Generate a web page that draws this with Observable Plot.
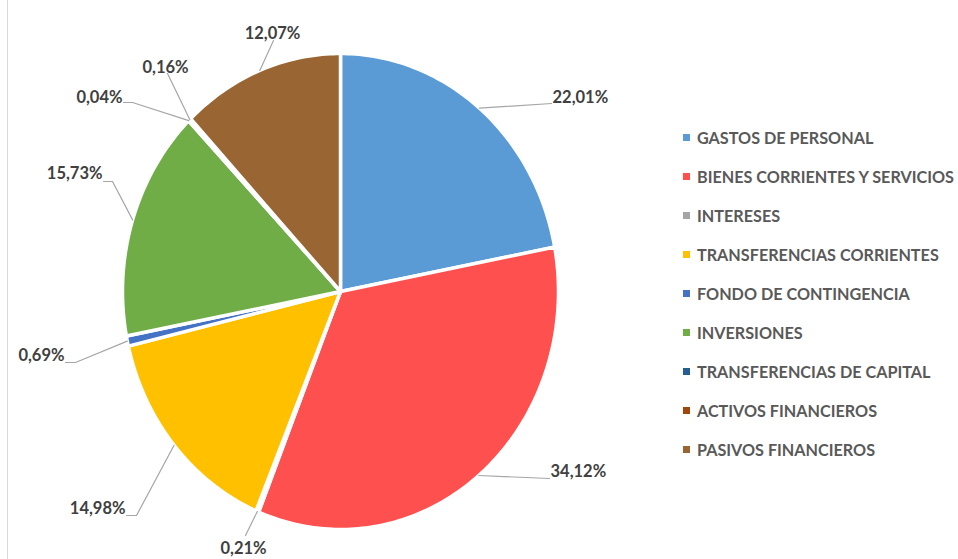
<!DOCTYPE html>
<html>
<head>
<meta charset="utf-8">
<script src="https://cdn.jsdelivr.net/npm/d3@7"></script>
<script src="https://cdn.jsdelivr.net/npm/@observablehq/plot@0.6"></script>
<style>
  html, body { margin: 0; padding: 0; background: #fff; }
  #wrap { position: relative; width: 958px; height: 559px; overflow: hidden; }
  #frame { position: absolute; left: 7px; top: 0; width: 1px; height: 559px; background: #d9d9d9; }
  #legend { position: absolute; left: 683px; top: 0; font-family: Lato, "Open Sans", sans-serif; font-weight: 700; font-size: 16.2px; color: #595959; }
  #legend .row { position: absolute; left: 0; white-space: nowrap; display: flex; align-items: center; height: 20px; }
  #legend .sw { width: 7px; height: 7px; margin-right: 7px; }
</style>
</head>
<body>
<div id="wrap"><div id="frame"></div><div id="chart"></div><div id="legend"></div></div>
<script>
// ---- data ----
const categories = [
  "GASTOS DE PERSONAL",
  "BIENES CORRIENTES Y SERVICIOS",
  "INTERESES",
  "TRANSFERENCIAS CORRIENTES",
  "FONDO DE CONTINGENCIA",
  "INVERSIONES",
  "TRANSFERENCIAS DE CAPITAL",
  "ACTIVOS FINANCIEROS",
  "PASIVOS FINANCIEROS"
];
const shares = [22.01, 34.12, 0.21, 14.98, 0.69, 15.73, 0.04, 0.16, 12.07];
const labelTexts = ["22,01%", "34,12%", "0,21%", "14,98%", "0,69%", "15,73%", "0,04%", "0,16%", "12,07%"];
const colors = ["#5b9bd5", "#ff5050", "#a5a5a5", "#ffc000", "#4472c4", "#70ad47", "#255e91", "#9e480e", "#996633"];

// ---- layout (pixels) ----
const W = 958, H = 559;
const CX = 340, CY = 291, RX = 218, RY = 238;
// leader-line bend/end points and text placement for each label
const labelLayout = [
  {pts: [[551, 103]], tx: 552, ty: 97, anchor: "start"},
  {pts: [[549, 478]], tx: 550, ty: 471, anchor: "start"},
  {pts: [[245, 535]], tx: 243, ty: 548, anchor: "middle"},
  {pts: [[136, 515], [126, 515]], tx: 125, ty: 508, anchor: "end"},
  {pts: [[75, 362], [65, 362]], tx: 64, ty: 355, anchor: "end"},
  {pts: [[112, 181], [103, 181]], tx: 102, ty: 173, anchor: "end"},
  {pts: [[132, 102], [123, 102]], tx: 122, ty: 97, anchor: "end"},
  {pts: [[167, 73]], tx: 165, ty: 67, anchor: "middle"},
  {pts: [[273, 40]], tx: 272, ty: 33, anchor: "middle"}
];
const toX = px => (px - CX) / RX;
const toY = py => (CY - py) / RY;

// ---- geometry from data ----
const total = d3.sum(shares);
const slicePts = [];
const leaderPts = [];
const labels = [];
let cum = 0;
shares.forEach((v, i) => {
  const a0 = cum / total * 2 * Math.PI;
  cum += v;
  const a1 = cum / total * 2 * Math.PI;
  const n = Math.max(2, Math.ceil((a1 - a0) / (Math.PI / 180)) + 1);
  slicePts.push({cat: categories[i], x: 0, y: 0});
  for (let k = 0; k <= n; k++) {
    const a = a0 + (a1 - a0) * k / n;
    slicePts.push({cat: categories[i], x: Math.sin(a), y: Math.cos(a)});
  }
  slicePts.push({cat: categories[i], x: 0, y: 0});
  const am = (a0 + a1) / 2;
  const L = labelLayout[i];
  leaderPts.push({id: i, x: Math.sin(am), y: Math.cos(am)});
  L.pts.forEach(p => leaderPts.push({id: i, x: toX(p[0]), y: toY(p[1])}));
  labels.push({text: labelTexts[i], x: toX(L.tx), y: toY(L.ty), anchor: L.anchor});
});

const textOpts = (anchor) => ({
  x: "x", y: "y", text: "text", textAnchor: anchor,
  fontFamily: "Lato, 'Open Sans', sans-serif", fontWeight: 700, fontSize: 16.5, fill: "#404040"
});

const plot = Plot.plot({
  width: W, height: H,
  marginLeft: CX - RX, marginRight: W - (CX + RX),
  marginTop: CY - RY, marginBottom: H - (CY + RY),
  x: {domain: [-1, 1], axis: null},
  y: {domain: [-1, 1], axis: null},
  color: {domain: categories, range: colors},
  style: {overflow: "visible", background: "transparent"},
  marks: [
    Plot.line(slicePts, {x: "x", y: "y", z: "cat", fill: "cat", stroke: "white", strokeWidth: 3.5, strokeLinejoin: "miter", strokeMiterlimit: 2, curve: "linear"}),
    Plot.line(leaderPts, {x: "x", y: "y", z: "id", stroke: "#a6a6a6", strokeWidth: 1.2, curve: "linear"}),
    Plot.text(labels.filter(d => d.anchor === "start"), textOpts("start")),
    Plot.text(labels.filter(d => d.anchor === "end"), textOpts("end")),
    Plot.text(labels.filter(d => d.anchor === "middle"), textOpts("middle"))
  ]
});
document.getElementById("chart").appendChild(plot);

// ---- legend ----
const color = plot.scale("color");
const legend = document.getElementById("legend");
categories.forEach((c, i) => {
  const row = document.createElement("div");
  row.className = "row";
  row.style.top = (127 + 39 * i) + "px";
  const sw = document.createElement("span");
  sw.className = "sw";
  sw.style.background = color.apply(c);
  const t = document.createElement("span");
  t.textContent = c;
  row.appendChild(sw);
  row.appendChild(t);
  legend.appendChild(row);
});
</script>
</body>
</html>
